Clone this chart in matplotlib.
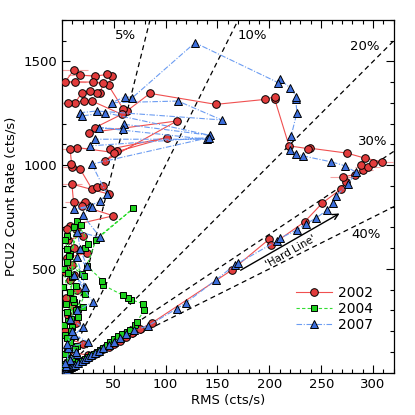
import matplotlib
matplotlib.use('Agg')
import matplotlib.pyplot as plt
import numpy as np
from matplotlib.legend_handler import HandlerLine2D

# 2002 outburst (RMS, PCU2 rate, rms error)
rms_2002 = [1, 2, 3, 4, 5, 6, 7, 8, 10, 12,
            14, 16, 19, 22, 25, 28, 32, 36, 40, 45,
            50, 56, 62, 68, 75, 86.6, 164, 200, 202, 234,
            251, 269, 274, 271, 283, 290, 288, 295, 300, 309,
            292, 275, 239, 237, 219, 205, 205, 196, 148.5, 85,
            62.6, 59, 45, 48, 43.4, 32, 17.7, 11.3, 3.3, 12.9,
            30.5, 40, 37, 33.7, 27.3, 19.3, 12.9, 5.5, 20.9, 29,
            57.8, 32, 26.6, 111, 41.7, 53, 46.5, 101, 50, 14.5,
            8, 9.7, 8.7, 17.7, 29, 33.7, 40, 45, 9.7, 11.3,
            22.5, 19.3, 49.7, 8, 4.9, 14, 20, 6, 12, 24,
            5, 10, 3, 12, 8, 15, 4, 10, 6, 14,
            3, 8, 20, 12, 6, 25, 15, 5, 10, 3]
rate_2002 = [3, 6, 9, 12, 15, 17, 20, 23, 28, 34,
             40, 46, 54, 62, 70, 78, 90, 100, 112, 125,
             140, 155, 172, 190, 210, 239, 495, 644, 615, 727,
             817, 885, 920, 944, 955, 975, 1000, 990, 1010, 1016,
             1034, 1058, 1082, 1080, 1093, 1321, 1330, 1317, 1293, 1346,
             1261, 1272, 1384, 1429, 1437, 1429, 1434, 1457, 1402, 1402,
             1400, 1397, 1349, 1349, 1357, 1349, 1301, 1301, 1309, 1309,
             1245, 1181, 1157, 1213, 1021, 1069, 1077, 1133, 1061, 1085,
             1077, 989, 1005, 981, 885, 893, 901, 861, 909, 821,
             821, 804, 756, 708, 692, 690, 660, 640, 600, 575,
             555, 520, 485, 470, 445, 400, 360, 320, 280, 240,
             200, 160, 140, 120, 100, 85, 62, 40, 25, 10]
err_2002 = [0, 0, 0, 0, 0, 0, 0, 0, 0, 0,
            0, 0, 0, 0, 0, 0, 0, 0, 0, 0,
            0, 0, 0, 0, 0, 0, 0, 0, 0, 0,
            0, 0, 0, 13, 0, 10, 0, 12, 0, 10,
            0, 0, 0, 0, 0, 0, 0, 0, 0, 0,
            0, 0, 0, 0, 0, 0, 12, 14, 8, 10,
            0, 8, 0, 0, 0, 0, 9, 8, 0, 0,
            0, 0, 0, 0, 0, 0, 0, 0, 0, 10,
            8, 9, 0, 0, 0, 0, 0, 0, 10, 8,
            0, 0, 0, 6, 5, 0, 0, 5, 0, 0,
            5, 0, 3, 0, 0, 0, 4, 0, 0, 0,
            3, 0, 0, 0, 0, 0, 0, 0, 0, 0]

# 2004 outburst
rms_2004 = [1.5, 3, 5, 7, 9, 11, 13, 16, 19, 22,
            25, 28, 31, 34, 37, 40, 43.4, 46, 50, 54.5,
            58, 62.6, 66, 70.6, 72.2, 79.2, 78.6, 66.4, 64, 59.3,
            39.5, 39, 24, 33, 69, 22, 25.6, 14.5, 4.9, 8,
            4.9, 19.3, 9.7, 4.9, 20.9, 1.6, 8, 22.5, 16, 4.9,
            12, 20, 14, 6, 10, 3, 8, 15, 5, 10,
            3, 6, 12, 18, 7, 3, 14, 9, 2, 6,
            11, 4, 16, 2, 9, 5, 13, 3, 7, 2]
rate_2004 = [5, 10, 16, 22, 28, 35, 42, 50, 58, 66,
             75, 84, 92, 100, 110, 120, 135, 148, 160, 175,
             185, 196, 208, 228, 244, 300, 332, 352, 359, 372,
             423, 444, 516, 640, 792, 600, 620, 732, 660, 572,
             596, 476, 460, 533, 468, 413, 389, 380, 308, 293,
             340, 318, 300, 250, 220, 180, 150, 130, 100, 70,
             40, 20, 700, 710, 560, 640, 420, 260, 500, 480,
             355, 330, 270, 230, 200, 165, 115, 90, 60, 30]

# 2007 outburst
rms_2007 = [1, 2, 3, 5, 7, 9, 11, 13, 16, 19,
            22, 25, 28, 32, 36, 40, 45, 50, 56, 62,
            70, 83.4, 110.7, 119.6, 148.5, 166.7, 170, 207.8, 210, 227,
            235, 245, 255.8, 261.3, 264.5, 275.7, 283.7, 273, 259.7, 232,
            226, 219.6, 221, 226.6, 225.4, 226, 220, 210, 208.4, 128.3,
            68, 61, 48, 112, 154, 33.7, 17.7, 19.3, 41.7, 142.7,
            60, 58.8, 36.3, 139.5, 32, 27.3, 142, 28.9, 43.4, 36.9,
            27.3, 11.3, 29, 20, 37, 15, 17.7, 24, 14.5, 22.5,
            12, 30, 15, 8, 20, 12, 25, 6, 15, 8,
            4, 10, 5, 14, 3]
rate_2007 = [3, 6, 10, 15, 21, 27, 33, 39, 48, 57,
             66, 74, 83, 95, 106, 118, 133, 148, 165, 185,
             205, 227, 308, 337, 447, 519, 528, 636, 647, 689,
             716, 745, 784, 816, 852, 909, 965, 997, 1016, 1045,
             1056, 1073, 1141, 1253, 1317, 1330, 1373, 1413, 1398, 1590,
             1325, 1330, 1301, 1309, 1218, 1261, 1253, 1237, 1253, 1144,
             1197, 1173, 1181, 1125, 1125, 1093, 1133, 1005, 861, 828,
             804, 788, 797, 760, 652, 680, 596, 516, 556, 413,
             470, 340, 300, 260, 220, 180, 150, 120, 90, 60,
             30, 200, 140, 100, 45]

# constant fractional rms lines
fractions = [0.05, 0.10, 0.20, 0.30, 0.40]
frac_labels = ['5%', '10%', '20%', '30%', '40%']
label_pos = [(61, 1625), (184, 1625), (292, 1572), (300, 1115), (293, 668)]

fig = plt.figure(figsize=(4.15, 4.15), dpi=100)
ax = fig.add_axes([0.149, 0.102, 0.80, 0.85])

rate_line = np.array([0, 1800])
for f in fractions:
    ax.plot(f * rate_line, rate_line, color='black', linestyle=(0, (4, 3)), linewidth=0.9, zorder=1)
for lab, (tx, ty) in zip(frac_labels, label_pos):
    ax.text(tx, ty, lab, fontsize=9.5, ha='center', va='center')

red_c = '#e23c3c'
green_c = '#1fd11f'
blue_c = '#3d6fdc'

ax.errorbar(rms_2002, rate_2002, xerr=err_2002, fmt='none', ecolor='#f5a3a3', elinewidth=0.8, zorder=2)
l02, = ax.plot(rms_2002, rate_2002, color='#f05050', linewidth=0.8, marker='o', markersize=5.5,
               markerfacecolor=red_c, markeredgecolor='black', markeredgewidth=0.7, zorder=3)
l04, = ax.plot(rms_2004, rate_2004, color='#33dd33', linewidth=0.8, linestyle=(0, (3, 2)), marker='s',
               markersize=5, markerfacecolor=green_c, markeredgecolor='black', markeredgewidth=0.7, zorder=4)
l07, = ax.plot(rms_2007, rate_2007, color='#6b9cf2', linewidth=0.8, linestyle=(0, (5, 1.5, 1, 1.5)),
               marker='^', markersize=6, markerfacecolor=blue_c, markeredgecolor='black',
               markeredgewidth=0.7, zorder=5)

# hard line arrow
ax.annotate('', xy=(270, 774), xytext=(170, 487),
            arrowprops=dict(arrowstyle='->', color='black', lw=1.0))
ax.text(221, 582, "'Hard Line'", rotation=29.5, fontsize=7.5, ha='center', va='center')

ax.set_xlim(0, 320)
ax.set_ylim(0, 1700)
ax.set_xticks([50, 100, 150, 200, 250, 300])
ax.set_yticks([500, 1000, 1500])
ax.set_xticks(np.arange(0, 321, 10), minor=True)
ax.set_yticks(np.arange(0, 1701, 100), minor=True)
ax.tick_params(which='both', direction='in', top=True, right=True, labelsize=9.5)
ax.tick_params(which='major', length=6, width=0.8)
ax.tick_params(which='minor', length=3, width=0.8)
for s in ax.spines.values():
    s.set_linewidth(0.9)

ax.set_xlabel('RMS (cts/s)', fontsize=9.5, labelpad=2)
ax.set_ylabel('PCU2 Count Rate (cts/s)', fontsize=9.5, labelpad=4)


class EndMarker(HandlerLine2D):
    def get_xdata(self, legend, xdescent, ydescent, width, height, fontsize):
        xdata, xm = super().get_xdata(legend, xdescent, ydescent, width, height, fontsize)
        return xdata, [xdata[-1]]


ax.legend([l02, l04, l07], ['2002', '2004', '2007'], loc='lower right', bbox_to_anchor=(0.975, 0.08),
          frameon=False, fontsize=10, handlelength=2.6, handletextpad=0.4, labelspacing=0.15,
          handler_map={l02: EndMarker(), l04: EndMarker(), l07: EndMarker()})

fig.savefig('out.png', dpi=100)
